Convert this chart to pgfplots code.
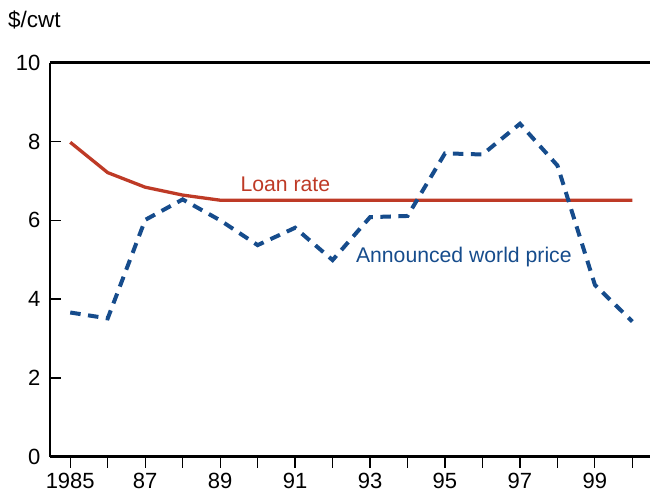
\documentclass[border=0pt]{standalone}
\usepackage{pgfplots}
\pgfplotsset{compat=1.18}
\usepackage{fontspec}
\setmainfont{Liberation Sans}
\definecolor{loanred}{RGB}{190,58,38}
\definecolor{wpblue}{RGB}{22,76,140}
\begin{document}
\begin{tikzpicture}
\begin{axis}[
  scale only axis,
  width=600pt, height=394pt,
  xmin=1984.46, xmax=2000.47,
  ymin=0, ymax=10,
  axis x line*=bottom, axis y line*=left,
  axis line style={line width=2.6pt, -},
  xtick={1985,...,2000},
  xticklabels={1985,,87,,89,,91,,93,,95,,97,,99,},
  ytick={0,2,4,6,8,10},
  x tick style={line width=1.2pt, black},
  y tick style={line width=1.2pt, black},
  xtick align=outside, ytick align=inside,
  major tick length=11pt,
  tick label style={font=\fontsize{22}{26}\selectfont, black},
  /pgf/number format/assume math mode=true,
  /pgf/number format/1000 sep={},
  xticklabel style={yshift=-2pt},
  yticklabel style={xshift=-6pt},
  clip=false,
]
\draw[line width=2.6pt] (rel axis cs:0,1) -- (rel axis cs:1,1);
\addplot[color=loanred, line width=3.3pt] coordinates {
 (1985,7.98) (1986,7.21) (1987,6.84) (1988,6.64) (1989,6.51) (1990,6.51)
 (1991,6.51) (1992,6.51) (1993,6.51) (1994,6.51) (1995,6.51) (1996,6.51)
 (1997,6.51) (1998,6.51) (1999,6.51) (2000,6.51)};
\addplot[color=wpblue, line width=4pt, dash pattern=on 10.5pt off 7.5pt] coordinates {
 (1985,3.66) (1986,3.51) (1987,6.01) (1988,6.53) (1989,6.0) (1990,5.37)
 (1991,5.81) (1992,4.99) (1993,6.08) (1994,6.11) (1995,7.70) (1996,7.67)
 (1997,8.45) (1998,7.39) (1999,4.36) (2000,3.43)};
\node[anchor=base west, text=loanred, font=\fontsize{21.2}{25}\selectfont, inner sep=0pt] at (axis cs:1989.54,6.72) {Loan rate};
\node[anchor=base west, text=wpblue, font=\fontsize{21.2}{25}\selectfont, inner sep=0pt] at (axis cs:1992.62,4.93) {Announced world price};
\node[anchor=base west, font=\fontsize{22.5}{26}\selectfont, inner sep=0pt] at ([xshift=-42pt,yshift=35pt]rel axis cs:0,1) {\$/cwt};
\coordinate (sw) at (rel axis cs:0,0);
\coordinate (ne) at (rel axis cs:1,1);
\end{axis}
\pgfresetboundingbox
\path ([xshift=-50pt,yshift=-38.3pt]sw) rectangle ([yshift=62.7pt]ne);
\end{tikzpicture}
\end{document}
